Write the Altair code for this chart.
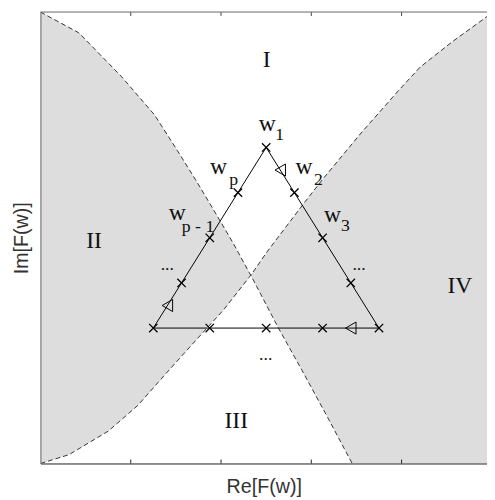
import altair as alt
import pandas as pd

# ---------------- data ----------------
X_MAX = 4.946
Y_MAX = 5.0
# boundary curve A (from the top-left corner down to the bottom edge)
A_X = [0.0, 0.425, 0.893, 1.264, 1.514, 1.732, 1.917, 2.135, 2.309, 2.33, 2.636, 2.898, 3.181, 3.453]
A_Y = [5.0, 4.77, 4.29, 3.86, 3.47, 3.12, 2.81, 2.44, 2.12, 2.085, 1.50, 1.03, 0.51, 0.0]
# boundary curve B (from the bottom-left corner up to the top-right corner)
B_X = [0.0, 0.316, 0.752, 1.078, 1.405, 1.699, 2.026, 2.309, 2.33, 2.516, 2.930, 3.126, 3.551, 3.965, 4.205, 4.564, 4.946]
B_Y = [0.0, 0.098, 0.359, 0.643, 1.013, 1.340, 1.699, 2.059, 2.085, 2.353, 2.898, 3.148, 3.660, 4.129, 4.390, 4.673, 4.95]
CROSS_X = 2.33

# contour (triangle) vertices, closed
TRI_X = [2.5, 3.75, 1.25, 2.5]
TRI_Y = [3.5, 1.5, 1.5, 3.5]
# sample points w_k on the contour
PT_X = [2.5, 2.8125, 3.125, 3.4375, 3.75, 3.125, 2.5, 1.875, 1.25, 1.5625, 1.875, 2.1875]
PT_Y = [3.5, 3.0, 2.5, 2.0, 1.5, 1.5, 1.5, 1.5, 1.5, 2.0, 2.5, 3.0]
# direction arrows
ARR_X = [2.656, 3.4375, 1.406]
ARR_Y = [3.25, 1.5, 1.75]

# labels
W_X = [2.511, 2.919, 3.235, 1.972, 1.514]
W_Y = [3.682, 3.203, 2.680, 3.203, 2.702]
SUB_TEXT = ["1", "2", "3", "p", "p - 1"]
SUB_X = [2.650, 3.080, 3.378, 2.140, 1.745]
SUB_Y = [3.584, 3.083, 2.571, 3.083, 2.560]
DOT_X = [1.405, 3.529, 2.495]
DOT_Y = [2.146, 2.146, 1.144]
REG_TEXT = ["I", "II", "III", "IV"]
REG_X = [2.505, 0.594, 2.168, 4.646]
REG_Y = [4.390, 2.386, 0.392, 1.885]
TICKS = [1, 2, 3, 4]

# ---------------- tables ----------------
dfA = pd.DataFrame({"x": A_X, "y": A_Y})
dfB = pd.DataFrame({"x": B_X, "y": B_Y})
upper = pd.concat([dfA[dfA.x <= CROSS_X], dfB[dfB.x > CROSS_X]])
lower = pd.concat([dfB[dfB.x <= CROSS_X], dfA[dfA.x > CROSS_X]])
tri = pd.DataFrame({"x": TRI_X, "y": TRI_Y, "o": list(range(len(TRI_X)))})
pts = pd.DataFrame({"x": PT_X, "y": PT_Y})
arr = pd.DataFrame({"x": ARR_X, "y": ARR_Y})
wlab = pd.DataFrame({"x": W_X, "y": W_Y, "t": ["w"] * len(W_X)})
sublab = pd.DataFrame({"x": SUB_X, "y": SUB_Y, "t": SUB_TEXT})
dots = pd.DataFrame({"x": DOT_X, "y": DOT_Y, "t": ["..."] * len(DOT_X)})
regs = pd.DataFrame({"x": REG_X, "y": REG_Y, "t": REG_TEXT})
ticks = pd.DataFrame({"x": TICKS})

W, H = 454, 459

xs = alt.Scale(domain=[0, X_MAX], nice=False, zero=False)
ys = alt.Scale(domain=[0, Y_MAX], nice=False, zero=False)
xax = alt.Axis(title="Re[F(w)]", labels=False, ticks=False, grid=False,
               domainColor="#222", titleFont="Liberation Sans", titleFontSize=20,
               titleFontWeight="normal", titleColor="#333", titlePadding=13, zindex=1)
yax = alt.Axis(title="Im[F(w)]", labels=False, ticks=False, grid=False,
               domainColor="#666", titleFont="Liberation Sans", titleFontSize=20,
               titleFontWeight="normal", titleColor="#333", titlePadding=9, zindex=1)
X = alt.X("x:Q", scale=xs, axis=xax)
Y = alt.Y("y:Q", scale=ys, axis=yax)

white_top = alt.Chart(upper).mark_area(color="white", clip=True).encode(x=X, y=Y, y2=alt.datum(Y_MAX))
white_bot = alt.Chart(lower).mark_area(color="white", clip=True).encode(x=X, y=Y, y2=alt.datum(0))
curveA = alt.Chart(dfA).mark_line(color="#333", strokeWidth=1, strokeDash=[5, 3], clip=True).encode(x=X, y=Y)
curveB = alt.Chart(dfB).mark_line(color="#333", strokeWidth=1, strokeDash=[5, 3], clip=True).encode(x=X, y=Y)
contour = alt.Chart(tri).mark_line(color="black", strokeWidth=1).encode(x=X, y=Y, order="o:Q")
xmarks = alt.Chart(pts).mark_point(shape="M-1,-1L1,1M-1,1L1,-1", size=72, color="black",
                                   strokeWidth=1.3, filled=False, opacity=1).encode(x=X, y=Y)
arrows = alt.Chart(arr).mark_point(shape="triangle-left", size=150, color="black",
                                   strokeWidth=1, filled=False, opacity=1).encode(x=X, y=Y)
wtext = alt.Chart(wlab).mark_text(font="Liberation Serif", fontSize=24, baseline="alphabetic",
                                  align="center", color="#111").encode(x=X, y=Y, text="t:N")
stext = alt.Chart(sublab).mark_text(font="Liberation Serif", fontSize=18, baseline="alphabetic",
                                    align="center", color="#111").encode(x=X, y=Y, text="t:N")
dtext = alt.Chart(dots).mark_text(font="Liberation Serif", fontSize=18, baseline="alphabetic",
                                  align="center", color="#111").encode(x=X, y=Y, text="t:N")
rtext = alt.Chart(regs).mark_text(font="Liberation Serif", fontSize=24, baseline="alphabetic",
                                  align="center", color="#111").encode(x=X, y=Y, text="t:N")
tick_bot = alt.Chart(ticks).mark_rule(color="#222", strokeWidth=1).encode(x=X, y=alt.value(H), y2=alt.value(H - 4))
tick_top = alt.Chart(ticks).mark_rule(color="#444", strokeWidth=1).encode(x=X, y=alt.value(0), y2=alt.value(4))
top_border = alt.Chart(ticks.head(1)).mark_rule(color="#666", strokeWidth=1).encode(
    x=alt.value(0), x2=alt.value(W), y=alt.value(0))

chart = alt.layer(
    white_top, white_bot, curveA, curveB, contour, xmarks, arrows,
    wtext, stext, dtext, rtext, tick_bot, tick_top, top_border
).properties(
    width=W, height=H,
    padding={"left": 33, "top": 0, "right": 0, "bottom": 33},
    autosize=alt.AutoSizeParams(type="none"),
).configure_view(fill="#dddddd", strokeWidth=0)

chart.save("out.html", embed_options={"renderer": "svg", "actions": False})
